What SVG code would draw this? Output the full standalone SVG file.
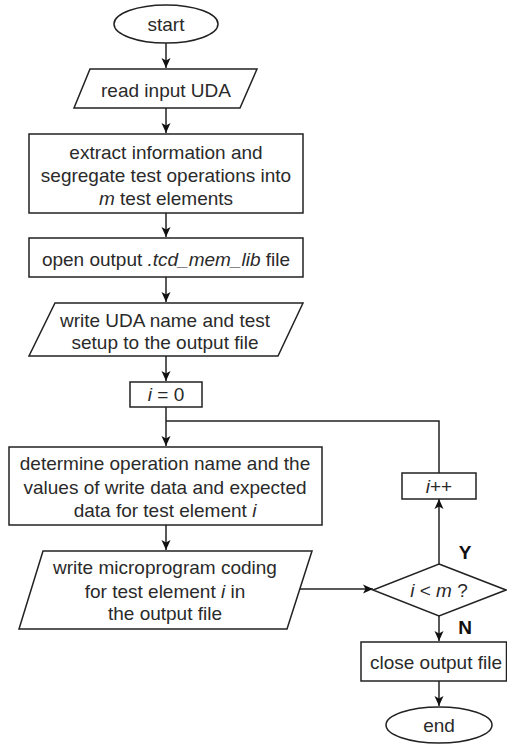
<svg xmlns="http://www.w3.org/2000/svg" width="507" height="744" viewBox="0 0 507 744">
<defs>
<marker id="arr" markerUnits="userSpaceOnUse" markerWidth="10" markerHeight="10" viewBox="0 0 10 10" refX="10" refY="5" orient="auto">
<path d="M0,0.5 L10,5 L0,9.5 L2.5,5 Z" fill="#111"/>
</marker>
<style>
.s{fill:#fff;stroke:#222;stroke-width:1.5}
.c{fill:none;stroke:#222;stroke-width:1.5}
.a{marker-end:url(#arr)}
text{font-family:"Liberation Sans",Arial,sans-serif;font-size:19px;fill:#2a2a2a;text-anchor:middle}
.b{font-weight:bold;fill:#111}
.i{font-style:italic}
</style>
</defs>
<rect width="507" height="744" fill="#fff"/>
<g id="connectors">
<line class="c a" x1="166" y1="43" x2="166" y2="68"/>
<line class="c a" x1="166" y1="108" x2="166" y2="133"/>
<line class="c a" x1="166" y1="213" x2="166" y2="237"/>
<line class="c a" x1="166" y1="277" x2="166" y2="302"/>
<line class="c a" x1="166" y1="356" x2="166" y2="381"/>
<line class="c a" x1="166" y1="407" x2="166" y2="446"/>
<polyline class="c" points="439,473 439,421 166,421"/>
<line class="c a" x1="166" y1="525" x2="166" y2="550"/>
<line class="c a" x1="300" y1="589" x2="373" y2="589"/>
<line class="c a" x1="439" y1="564" x2="439" y2="499"/>
<line class="c a" x1="439" y1="616" x2="439" y2="641"/>
<line class="c a" x1="439" y1="681" x2="439" y2="706"/>
<text class="b" x="465" y="559">Y</text>
<text class="b" x="465" y="634">N</text>
</g>
<g id="start">
<ellipse class="s" cx="166" cy="24" rx="52" ry="19"/>
<text x="166" y="31">start</text>
</g>
<g id="read">
<polygon class="s" points="90,69 257,69 240,108 74,108"/>
<text x="166" y="97">read input UDA</text>
</g>
<g id="extract">
<rect class="s" x="29" y="134" width="274" height="79"/>
<text x="166" y="159">extract information and</text>
<text x="166" y="182">segregate test operations into</text>
<text x="166" y="205"><tspan class="i">m</tspan> test elements</text>
</g>
<g id="open">
<rect class="s" x="29" y="238" width="274" height="39"/>
<text x="166" y="266">open output <tspan class="i">.tcd_mem_lib</tspan> file</text>
</g>
<g id="writeuda">
<polygon class="s" points="55,303 303,303 278,356 29,356"/>
<text x="165" y="327">write UDA name and test</text>
<text x="165" y="349">setup to the output file</text>
</g>
<g id="init">
<rect class="s" x="130" y="382" width="72" height="25"/>
<text x="166" y="401"><tspan class="i">i</tspan> = 0</text>
</g>
<g id="determine">
<rect class="s" x="9" y="447" width="313" height="78"/>
<text x="165" y="470">determine operation name and the</text>
<text x="165" y="494">values of write data and expected</text>
<text x="165" y="517">data for test element <tspan class="i">i</tspan></text>
</g>
<g id="writemicro">
<polygon class="s" points="43,551 312,551 287,629 19,629"/>
<text x="165" y="574">write microprogram coding</text>
<text x="165" y="598">for test element <tspan class="i">i</tspan> in</text>
<text x="165" y="620">the output file</text>
</g>
<g id="decision">
<polygon class="s" points="439,564 506,590 439,616 373,590"/>
<text x="439" y="597"><tspan class="i">i</tspan> &lt; <tspan class="i">m</tspan> ?</text>
</g>
<g id="increment">
<rect class="s" x="402" y="473" width="74" height="26"/>
<text x="439" y="493"><tspan class="i">i</tspan>++</text>
</g>
<g id="close">
<rect class="s" x="361" y="642" width="145.5" height="39"/>
<text x="436" y="669">close output file</text>
</g>
<g id="end">
<ellipse class="s" cx="439" cy="725" rx="53" ry="18"/>
<text x="439" y="732">end</text>
</g>
</svg>
